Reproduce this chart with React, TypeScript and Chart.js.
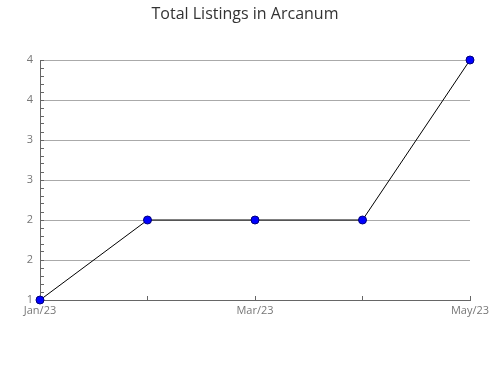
import React, { useEffect, useRef } from "react";
import { Chart, registerables } from "chart.js";

Chart.register(...registerables);

const categories = ["Jan/23", "Feb/23", "Mar/23", "Apr/23", "May/23"];
const listings = [1, 2, 2, 2, 4];
const shownXLabels = ["Jan/23", "Mar/23", "May/23"];
const titleText = "Total Listings in Arcanum";

const isMajor = (v: number) => Math.abs(v * 2 - Math.round(v * 2)) < 1e-6;

export default function App() {
  const ref = useRef<HTMLCanvasElement | null>(null);
  useEffect(() => {
    if (!ref.current) return;
    const chart = new Chart(ref.current, {
      type: "line",
      data: {
        labels: categories,
        datasets: [
          {
            data: listings,
            borderColor: "#000000",
            borderWidth: 1,
            pointBackgroundColor: "#0000ff",
            pointBorderColor: "#00007a",
            pointBorderWidth: 1,
            pointRadius: 4,
            tension: 0,
            fill: false,
            clip: false,
          },
        ],
      },
      options: {
        responsive: false,
        animation: false,
        layout: { padding: 0 },
        plugins: {
          legend: { display: false },
          tooltip: { enabled: false },
          title: {
            display: true,
            text: titleText,
            color: "#333333",
            font: { family: "'Open Sans'", size: 16, weight: "normal" },
            padding: { top: 5, bottom: 35.8 },
          },
        },
        scales: {
          x: {
            type: "category",
            offset: false,
            afterFit: (s: any) => {
              s.height = 80;
              s.paddingLeft = 0;
              s.paddingRight = 20;
            },
            grid: {
              color: "transparent",
              tickColor: "#666666",
              tickLength: -4,
              drawTicks: true,
            },
            border: { display: true, color: "#666666", width: 1 },
            ticks: {
              autoSkip: false,
              maxRotation: 0,
              padding: 8,
              color: "#777777",
              font: { family: "'Open Sans'", size: 11 },
              callback: function (this: any, value: any, index: number) {
                const lab = categories[index];
                return shownXLabels.includes(lab) ? lab : "";
              },
            },
          },
          y: {
            type: "linear",
            min: 1,
            max: 4,
            afterFit: (s: any) => {
              s.width = 40;
            },
            grid: {
              color: (ctx: any) =>
                ctx.tick && isMajor(ctx.tick.value) ? "#aaaaaa" : "transparent",
              tickColor: "#666666",
              tickLength: -4,
              drawTicks: true,
            },
            border: { display: true, color: "#666666", width: 1 },
            ticks: {
              stepSize: 0.1,
              maxTicksLimit: 1000,
              autoSkip: false,
              padding: 11,
              color: "#777777",
              font: { family: "'Open Sans'", size: 11 },
              callback: (value: any) => {
                const v = Number(value);
                return isMajor(v) ? String(Math.round(v)) : "";
              },
            },
          },
        },
      },
    });
    return () => chart.destroy();
  }, []);
  return (
    <div
      style={{
        position: "fixed",
        left: 0,
        top: 0,
        width: 490,
        height: 380,
        background: "#ffffff",
      }}
    >
      <canvas ref={ref} width={490} height={380} />
    </div>
  );
}
